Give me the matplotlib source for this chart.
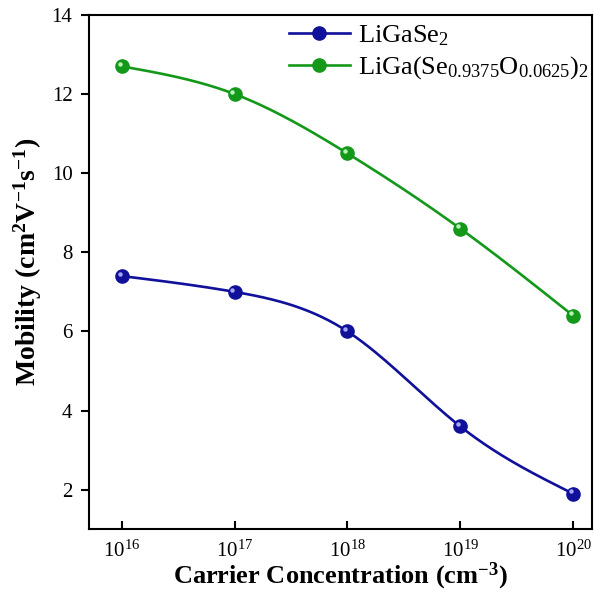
import numpy as np
import matplotlib.pyplot as plt
from matplotlib.transforms import offset_copy

plt.rcParams['font.family'] = ['Liberation Serif', 'DejaVu Serif']
plt.rcParams['mathtext.fontset'] = 'custom'
plt.rcParams['mathtext.rm'] = 'Liberation Serif'
plt.rcParams['mathtext.bf'] = 'Liberation Serif:bold'
plt.rcParams['mathtext.default'] = 'regular'

# data
exponents = [16, 17, 18, 19, 20]
carrier = [10.0 ** e for e in exponents]
mob_ligase2 = [7.4, 7.0, 6.0, 3.6, 1.9]
mob_doped = [12.7, 12.0, 10.5, 8.6, 6.4]
labels = ['LiGaSe$_2$', 'LiGa(Se$_{0.9375}$O$_{0.0625}$)$_2$']
colors = ['#10109a', '#13981a']
light = ['#b8b8ff', '#c8ffc8']


def natural_spline(x, y, n=200):
    # natural cubic spline through the points (smooth connect line)
    x = np.asarray(x, float)
    y = np.asarray(y, float)
    k = len(x)
    h = np.diff(x)
    A = np.zeros((k, k))
    b = np.zeros(k)
    A[0, 0] = A[-1, -1] = 1
    for i in range(1, k - 1):
        A[i, i - 1] = h[i - 1]
        A[i, i] = 2 * (h[i - 1] + h[i])
        A[i, i + 1] = h[i]
        b[i] = 6 * ((y[i + 1] - y[i]) / h[i] - (y[i] - y[i - 1]) / h[i - 1])
    M = np.linalg.solve(A, b)
    xs = np.linspace(x[0], x[-1], n)
    idx = np.clip(np.searchsorted(x, xs) - 1, 0, k - 2)
    x0, x1 = x[idx], x[idx + 1]
    hh = x1 - x0
    ys = (M[idx] * (x1 - xs) ** 3 / (6 * hh) + M[idx + 1] * (xs - x0) ** 3 / (6 * hh)
          + (y[idx] / hh - M[idx] * hh / 6) * (x1 - xs)
          + (y[idx + 1] / hh - M[idx + 1] * hh / 6) * (xs - x0))
    return xs, ys


fig = plt.figure(figsize=(5.94, 5.96), dpi=100)
ax = fig.add_axes([0.150, 0.112, 0.847, 0.863])
ax.set_xscale('log')

for yv, lab, c, lc in zip([mob_ligase2, mob_doped], labels, colors, light):
    xs, ys = natural_spline(np.log10(carrier), yv)
    ax.plot(10 ** xs, ys, color=c, lw=1.9, zorder=2)
    ax.plot(carrier, yv, 'o', color=c, ms=9.5, mec=c, zorder=3)
    hl = offset_copy(ax.transData, fig=fig, x=-1.6, y=1.6, units='points')
    ax.plot(carrier, yv, 'o', color=lc, ms=3.2, mew=0, alpha=0.9, transform=hl, zorder=4)
    # legend proxy
    ax.plot([], [], '-o', color=c, lw=1.9, ms=9.5, label=lab)

ax.set_xlim(10 ** 15.71, 10 ** 20.17)
ax.set_ylim(1, 14)
ax.set_xticks(carrier)
ax.set_xticklabels(['10$^{%d}$' % e for e in exponents])
ax.xaxis.set_minor_locator(plt.NullLocator())
ax.set_yticks([2, 4, 6, 8, 10, 12, 14])

for s in ax.spines.values():
    s.set_linewidth(1.5)
ax.tick_params(axis='x', direction='in', length=6, width=1.5, labelsize=15, pad=8)
ax.tick_params(axis='y', direction='out', length=6, width=1.5, labelsize=15, pad=6)

ax.set_xlabel('Carrier Concentration (cm$^{-3}$)', fontsize=19, fontweight='bold', labelpad=-1)
ax.set_ylabel('Mobility (cm$^2$V$^{-1}$s$^{-1}$)', fontsize=20, fontweight='bold')
ax.yaxis.set_label_coords(-0.09, 0.52)

handles, labs = ax.get_legend_handles_labels()
ax.legend(handles, labs, loc='upper left', bbox_to_anchor=(0.35, 1.03), frameon=False,
          fontsize=19, handlelength=2.3, handletextpad=0.3, labelspacing=0.25)

fig.savefig('out.png', dpi=100)
